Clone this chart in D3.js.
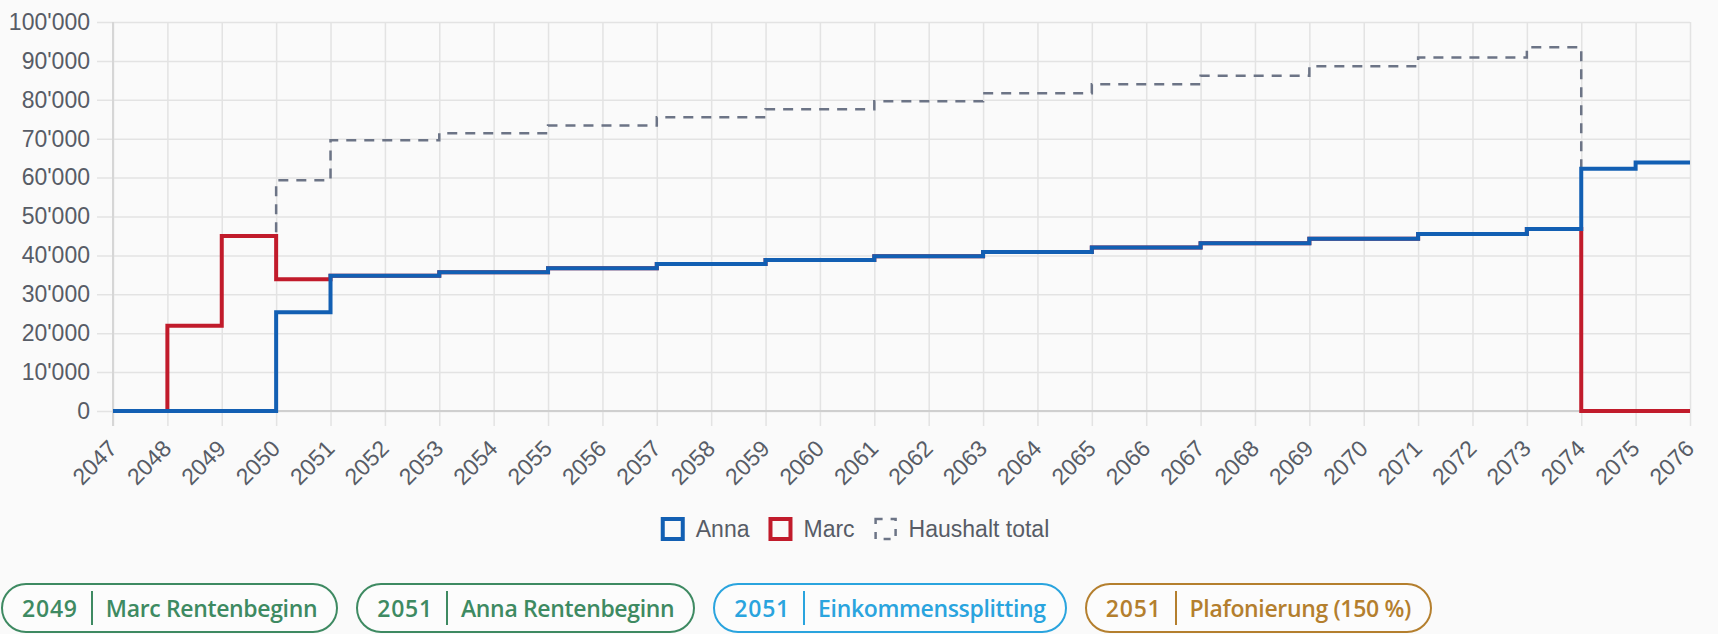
<!DOCTYPE html>
<html>
<head>
<meta charset="utf-8">
<script src="https://cdn.jsdelivr.net/npm/d3@7"></script>
<style>
  body { margin: 0; background: #fafafa; width: 1718px; height: 634px; overflow: hidden; position: relative; }
  svg { position: absolute; left: 0; top: 0; }
  .axis text { font-family: "Liberation Sans", Arial, sans-serif; font-size: 23px; fill: #575c66; }
  .axis .domain { display: none; }
  .grid line { stroke: #e3e3e3; stroke-width: 1.5; }
  #badges { position: absolute; left: 1px; top: 583px; display: flex; gap: 18px; }
  .badge {
    box-sizing: border-box; height: 50px; border: 2px solid; border-radius: 25px;
    display: flex; align-items: center; padding: 0 19px 0 19px;
    font-family: "Open Sans", "Noto Sans", sans-serif; font-weight: 600; font-size: 23px;
    background: #fcfcfc; white-space: nowrap;
  }
  .badge .yr { letter-spacing: 0.8px; }
  .badge .lbl { letter-spacing: -0.35px; }
  .badge .sep { width: 2px; height: 34px; margin: 0 13px; }
</style>
</head>
<body>
<div class="main"></div>
<div id="badges"></div>
<script>
// Jahre (Kategorien der x-Achse)
const years = [2047, 2048, 2049, 2050, 2051, 2052, 2053, 2054, 2055, 2056,
               2057, 2058, 2059, 2060, 2061, 2062, 2063, 2064, 2065, 2066,
               2067, 2068, 2069, 2070, 2071, 2072, 2073, 2074, 2075, 2076];

const anna = [0, 0, 0, 25400, 34800, 34800, 35700, 35700, 36700, 36700,
              37800, 37800, 38800, 38800, 39800, 39800, 40900, 40900, 42000, 42000,
              43100, 43100, 44300, 44300, 45500, 45500, 46800, 62300, 63900, 63900];

const marc = [0, 21900, 45000, 33900, 34800, 34800, 35700, 35700, 36700, 36700,
              37800, 37800, 38800, 38800, 39800, 39800, 40900, 40900, 42000, 42000,
              43100, 43100, 44300, 44300, 45500, 45500, 46800, 0, 0, 0];

const household = [0, 21900, 45000, 59300, 69600, 69600, 71400, 71400, 73400, 73400,
                   75500, 75500, 77600, 77600, 79600, 79600, 81700, 81700, 84000, 84000,
                   86200, 86200, 88600, 88600, 90900, 90900, 93500, 62300, 63900, 63900];

const yTicks = [0, 10000, 20000, 30000, 40000, 50000, 60000, 70000, 80000, 90000, 100000];

const seriesNames = ["Anna", "Marc", "Haushalt total"];

const events = [
    { year: "2049", label: "Marc Rentenbeginn", color: "#3e8a62" },
    { year: "2051", label: "Anna Rentenbeginn", color: "#3e8a62" },
    { year: "2051", label: "Einkommenssplitting", color: "#2aa4de" },
    { year: "2051", label: "Plafonierung (150 %)", color: "#b47f2e" }
];

const w = 1718;
const h = 575;
const plotLeft = 113;
const plotRight = 1690;
const plotTop = 22;
const plotBottom = 411;

const svg = d3.select(".main").append("svg").attr("width", w).attr("height", h);

const xScale = d3.scalePoint().domain(years).range([plotLeft, plotRight]);
const yScale = d3.scaleLinear().domain([0, 100000]).range([plotBottom, plotTop]);

const swiss = d3.formatLocale({ decimal: ".", thousands: "'", grouping: [3], currency: ["", ""] });

// horizontale Gitterlinien + y-Beschriftung
const yAxis = d3.axisLeft(yScale)
    .tickValues(yTicks)
    .tickFormat(swiss.format(",d"))
    .tickSizeInner(plotRight - plotLeft + 16)
    .tickSizeOuter(0)
    .tickPadding(7);

svg.append("g")
    .attr("class", "axis grid")
    .attr("transform", `translate(${plotRight},0)`)
    .call(yAxis);

// vertikale Gitterlinien + x-Beschriftung
const xAxis = d3.axisBottom(xScale)
    .tickSizeInner(plotBottom - plotTop + 15)
    .tickSizeOuter(0);

const xg = svg.append("g")
    .attr("class", "axis grid")
    .attr("transform", `translate(0,${plotTop})`)
    .call(xAxis);

xg.selectAll("text")
    .attr("y", 0)
    .attr("dy", 0)
    .attr("text-anchor", "end")
    .attr("transform", `translate(5,${plotBottom - plotTop + 39}) rotate(-45)`);

// Achsenlinien
svg.append("line")
    .attr("x1", plotLeft).attr("x2", plotRight)
    .attr("y1", yScale(0)).attr("y2", yScale(0))
    .attr("stroke", "#cfcfcf").attr("stroke-width", 2);
svg.append("line")
    .attr("x1", plotLeft).attr("x2", plotLeft)
    .attr("y1", plotTop).attr("y2", plotBottom + 15)
    .attr("stroke", "#d6d6d6").attr("stroke-width", 2);

const line = d3.line()
    .x((d, i) => xScale(years[i]))
    .y((d) => yScale(d))
    .curve(d3.curveStepAfter);

svg.append("path")
    .datum(household)
    .attr("fill", "none")
    .attr("stroke", "#6c7486")
    .attr("stroke-width", 2.5)
    .attr("stroke-dasharray", "10,8")
    .attr("d", line);

svg.append("path")
    .datum(marc)
    .attr("fill", "none")
    .attr("stroke", "#c11b2b")
    .attr("stroke-width", 4)
    .attr("d", line);

svg.append("path")
    .datum(anna)
    .attr("fill", "none")
    .attr("stroke", "#125fb3")
    .attr("stroke-width", 4)
    .attr("d", line);

// Legende
const legendStyles = [
    { color: "#125fb3", dash: null, width: 4 },
    { color: "#c11b2b", dash: null, width: 4 },
    { color: "#6c7486", dash: "7,8", width: 2.5 }
];

const legend = svg.append("g").attr("id", "legend");
let lx = 0;
seriesNames.forEach((name, i) => {
    const item = legend.append("g").attr("transform", `translate(${lx},0)`);
    item.append("rect")
        .attr("x", 2).attr("y", -10)
        .attr("width", 20).attr("height", 20)
        .attr("fill", "none")
        .attr("stroke", legendStyles[i].color)
        .attr("stroke-width", legendStyles[i].width)
        .attr("stroke-dasharray", legendStyles[i].dash);
    const t = item.append("text")
        .attr("x", 35).attr("dy", "0.36em")
        .attr("font-family", "Liberation Sans, Arial, sans-serif")
        .attr("font-size", 23)
        .attr("fill", "#575c66")
        .text(name);
    lx += 35 + t.node().getComputedTextLength() + 19;
});
legend.attr("transform", `translate(${(w - (lx - 19)) / 2 - 4},529)`);

// Ereignisse
const badge = d3.select("#badges").selectAll(".badge")
    .data(events)
    .enter()
    .append("div")
    .attr("class", "badge")
    .style("border-color", (d) => d.color)
    .style("color", (d) => d.color);

badge.append("span").attr("class", "yr").text((d) => d.year);
badge.append("span").attr("class", "sep").style("background", (d) => d.color);
badge.append("span").attr("class", "lbl").text((d) => d.label);
</script>
</body>
</html>
